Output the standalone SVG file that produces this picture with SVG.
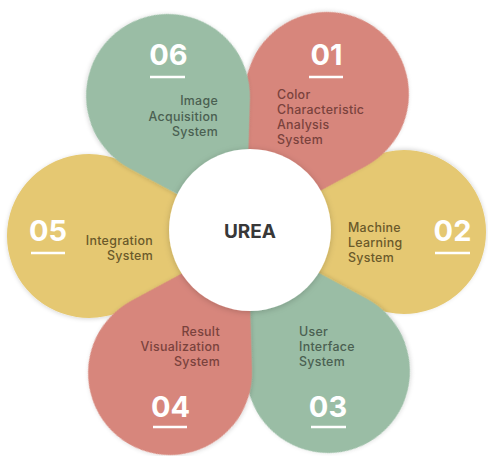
<svg xmlns="http://www.w3.org/2000/svg" width="488" height="456" viewBox="0 0 488 456">
  <style>
    .green { fill: #9abda5; }
    .red { fill: #d7867b; }
    .yellow { fill: #e5c872; }
    .num { font-family: Inter, "Liberation Sans", sans-serif; font-size: 29px; font-weight: 700; fill: #ffffff; text-anchor: middle; }
    .bar { stroke: #ffffff; stroke-width: 2.6; }
    .lbl { font-family: Inter, "Liberation Sans", sans-serif; font-size: 12.4px; font-weight: 500; letter-spacing: 0.3px; }
    .lg { fill: #4a6051; }
    .lr { fill: #7a423c; }
    .ly { fill: #6a592a; }
    .hub { font-family: Inter, "Liberation Sans", sans-serif; font-size: 19px; font-weight: 700; fill: #383838; text-anchor: middle; }
  </style>
  <defs>
    <!-- teardrop: circle of r=82 at origin, tip 156 px along +x -->
    <path id="petal" d="M156,0 L43.10,-69.75 A82,82 0 1 0 43.10,69.75 Z"/>
    <filter id="soft" x="-20%" y="-20%" width="140%" height="140%">
      <feDropShadow dx="0" dy="1" stdDeviation="2" flood-color="#000" flood-opacity="0.16"/>
    </filter>
    <filter id="hubShadow" x="-20%" y="-20%" width="140%" height="140%">
      <feDropShadow dx="0" dy="1" stdDeviation="3" flood-color="#000" flood-opacity="0.2"/>
    </filter>
  </defs>

  <rect width="488" height="456" fill="#ffffff"/>

  <g id="p02">
    <use href="#petal" class="yellow" filter="url(#soft)" transform="translate(404,232) rotate(180)"/>
    <text class="lbl ly" x="348" y="232">Machine</text>
    <text class="lbl ly" x="348" y="247.2">Learning</text>
    <text class="lbl ly" x="348" y="262.4">System</text>
    <text class="num" x="452.5" y="241">02</text>
    <line class="bar" x1="435" y1="253" x2="470" y2="253"/>
  </g>

  <g id="p05">
    <use href="#petal" class="yellow" filter="url(#soft)" transform="translate(89,236)"/>
    <text class="num" x="48" y="241">05</text>
    <line class="bar" x1="31" y1="253" x2="65" y2="253"/>
    <text class="lbl ly" x="153" y="244.5" text-anchor="end">Integration</text>
    <text class="lbl ly" x="153" y="259.7" text-anchor="end">System</text>
  </g>

  <g id="p01">
    <use href="#petal" class="red" filter="url(#soft)" transform="translate(327,94) rotate(120)"/>
    <text class="num" x="326.5" y="65">01</text>
    <line class="bar" x1="309" y1="77" x2="343" y2="77"/>
    <text class="lbl lr" x="277" y="98.5">Color</text>
    <text class="lbl lr" x="277" y="113.7">Characteristic</text>
    <text class="lbl lr" x="277" y="128.9">Analysis</text>
    <text class="lbl lr" x="277" y="144.1">System</text>
  </g>

  <g id="p03">
    <use href="#petal" class="green" filter="url(#soft)" transform="translate(328,371) rotate(-120)"/>
    <text class="lbl lg" x="299" y="336">User</text>
    <text class="lbl lg" x="299" y="351.2">Interface</text>
    <text class="lbl lg" x="299" y="366.4">System</text>
    <text class="num" x="328" y="417">03</text>
    <line class="bar" x1="311" y1="427" x2="346" y2="427"/>
  </g>

  <g id="p06">
    <use href="#petal" class="green" filter="url(#soft)" transform="translate(168,96) rotate(60)"/>
    <text class="num" x="168.5" y="65">06</text>
    <line class="bar" x1="150" y1="77" x2="185" y2="77"/>
    <text class="lbl lg" x="218" y="105" text-anchor="end">Image</text>
    <text class="lbl lg" x="218" y="120.5" text-anchor="end">Acquisition</text>
    <text class="lbl lg" x="218" y="136" text-anchor="end">System</text>
  </g>

  <g id="p04">
    <use href="#petal" class="red" filter="url(#soft)" transform="translate(170,373) rotate(-60)"/>
    <text class="lbl lr" x="220" y="336" text-anchor="end">Result</text>
    <text class="lbl lr" x="220" y="351.2" text-anchor="end">Visualization</text>
    <text class="lbl lr" x="220" y="366.4" text-anchor="end">System</text>
    <text class="num" x="170.5" y="417">04</text>
    <line class="bar" x1="153" y1="427" x2="187" y2="427"/>
  </g>

  <g id="hub">
    <circle cx="250" cy="230" r="81" fill="#ffffff" filter="url(#hubShadow)"/>
    <text class="hub" x="250" y="238">UREA</text>
  </g>
</svg>
